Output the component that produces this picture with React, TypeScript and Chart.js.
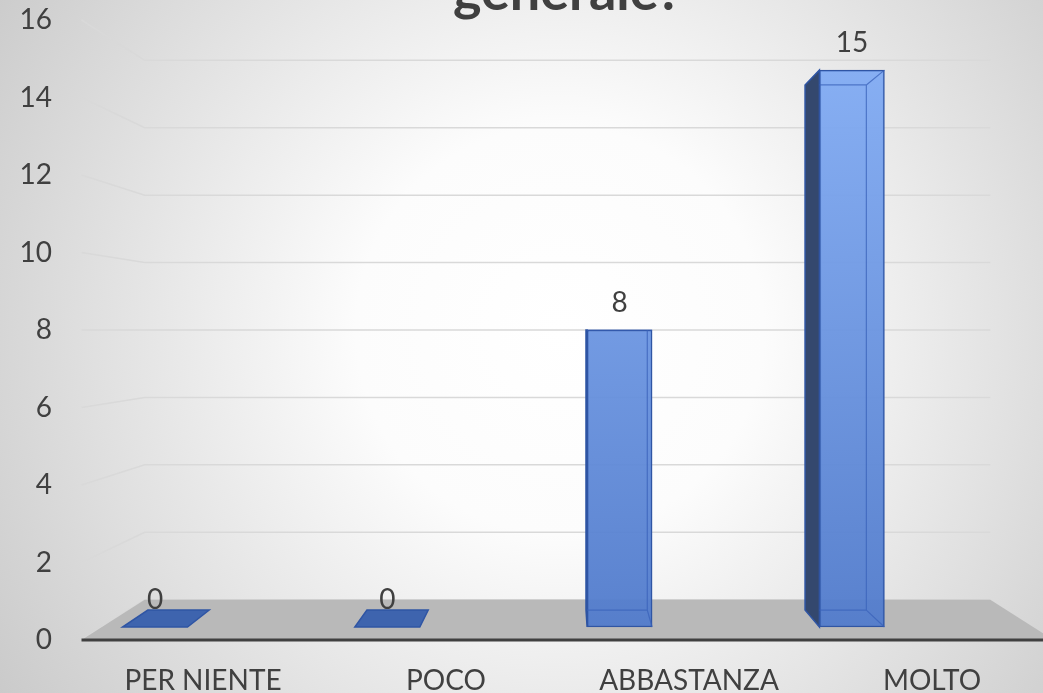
import React, { useEffect, useRef } from 'react';
import { Chart, registerables } from 'chart.js';

Chart.register(...registerables);

// ---- data ----
const CATEGORIES: string[] = ['PER NIENTE', 'POCO', 'ABBASTANZA', 'MOLTO'];
const VALUES: number[] = [0, 0, 8, 15];
const Y_MIN = 0;
const Y_MAX = 16;
const Y_STEP = 2;
const TITLE = 'generale?';

// ---- style / geometry ----
const FONT = 'Lato';
const TEXT_COLOR = '#404040';
const FLOOR_DEPTH = 0.13; // fraction toward vanishing point for the back wall
const BAR_BACK_RATIO = 0.943; // back face of bars relative to front face (toward vanishing point)
const GRID_COLOR = '#d9d9d9';
const FLOOR_COLOR = '#b9b9b9';
const AXIS_COLOR = '#404040';
const BAR_BORDER = '#2f55a4';
const BAR_SIDE = '#34486e';
const BAR_FLAT = '#3e64ae';
const BAR_INNER = 'rgba(58,98,186,0.75)';
const BAR_FILL_TOP = 'rgba(134,176,247,0.95)';
const BAR_FILL_BOTTOM = 'rgba(80,122,203,0.95)';

export default function App() {
  const ref = useRef<HTMLCanvasElement>(null);

  useEffect(() => {
    const canvas = ref.current;
    if (!canvas) return;

    const geom = (chart: any) => {
      const xLab = chart.scales.x;
      const yS = chart.scales.y;
      const vx = xLab.getPixelForValue((CATEGORIES.length - 1) / 2);
      const vy = yS.getPixelForValue((Y_MIN + Y_MAX) / 2);
      const proj = (x: number, y: number, d: number) => [x + d * (vx - x), y + d * (vy - y)];
      const back = (x: number, y: number) => [vx + (x - vx) * BAR_BACK_RATIO, vy + (y - vy) * BAR_BACK_RATIO];
      return { xLab, yS, vx, vy, proj, back };
    };

    const bars = (chart: any) => {
      const meta = chart.getDatasetMeta(0);
      return meta.data.map((el: any, i: number) => {
        const p = el.getProps(['x', 'y', 'base', 'width'], true);
        return { i, v: VALUES[i], x: p.x, top: p.y, bottom: p.base, w: p.width };
      });
    };

    const scene = {
      id: 'scene3d',
      beforeDraw(chart: any) {
        const { ctx, width, height } = chart;
        ctx.save();
        const g = ctx.createRadialGradient(560, 330, 0, 560, 330, 680);
        g.addColorStop(0, '#ffffff');
        g.addColorStop(0.3, '#fcfcfc');
        g.addColorStop(1, '#c9c9c9');
        ctx.fillStyle = g;
        ctx.fillRect(0, 0, width, height);
        ctx.restore();
      },
      beforeDatasetsDraw(chart: any) {
        const { ctx } = chart;
        const { xLab, yS, proj, back } = geom(chart);
        const xL = xLab.getPixelForValue(-0.5);
        const xR = xLab.getPixelForValue(CATEGORIES.length - 0.5);
        const y0 = yS.getPixelForValue(Y_MIN);
        ctx.save();
        // wall grid lines
        ctx.strokeStyle = GRID_COLOR;
        ctx.lineWidth = 1.5;
        for (let v = Y_MIN; v <= Y_MAX; v += Y_STEP) {
          const yf = yS.getPixelForValue(v);
          const b1 = proj(xL, yf, FLOOR_DEPTH);
          const b2 = proj(xR, yf, FLOOR_DEPTH);
          ctx.beginPath();
          ctx.moveTo(xL, yf);
          ctx.lineTo(b1[0], b1[1]);
          ctx.lineTo(b2[0], b2[1]);
          ctx.stroke();
        }
        // floor
        const f1 = proj(xL, y0, FLOOR_DEPTH);
        const f2 = proj(xR, y0, FLOOR_DEPTH);
        ctx.fillStyle = FLOOR_COLOR;
        ctx.beginPath();
        ctx.moveTo(xL, y0);
        ctx.lineTo(f1[0], f1[1]);
        ctx.lineTo(f2[0], f2[1]);
        ctx.lineTo(xR, y0);
        ctx.closePath();
        ctx.fill();
        // axis line
        ctx.strokeStyle = AXIS_COLOR;
        ctx.lineWidth = 3;
        ctx.beginPath();
        ctx.moveTo(xL, y0);
        ctx.lineTo(xR, y0);
        ctx.stroke();

        // bar sides / flat bars
        for (const b of bars(chart)) {
          const l = b.x - b.w / 2;
          const r = b.x + b.w / 2;
          const [bl, bt] = back(l, b.top);
          const [br, bb] = back(r, b.bottom);
          if (b.v === 0) {
            ctx.fillStyle = BAR_FLAT;
            ctx.strokeStyle = BAR_BORDER;
            ctx.lineWidth = 1.5;
            ctx.beginPath();
            ctx.moveTo(l, b.bottom);
            ctx.lineTo(r, b.bottom);
            ctx.lineTo(br, bb);
            ctx.lineTo(bl, bb);
            ctx.closePath();
            ctx.fill();
            ctx.stroke();
            continue;
          }
          ctx.fillStyle = BAR_SIDE;
          ctx.strokeStyle = BAR_BORDER;
          ctx.lineWidth = 1.5;
          if (bl < l) {
            ctx.beginPath();
            ctx.moveTo(l, b.top);
            ctx.lineTo(bl, bt);
            ctx.lineTo(bl, bb);
            ctx.lineTo(l, b.bottom);
            ctx.closePath();
            ctx.fill();
            ctx.stroke();
          }
          const [brt] = back(r, b.top);
          if (brt > r) {
            ctx.beginPath();
            ctx.moveTo(r, b.top);
            ctx.lineTo(brt, bt);
            ctx.lineTo(brt, bb);
            ctx.lineTo(r, b.bottom);
            ctx.closePath();
            ctx.fill();
            ctx.stroke();
          }
        }
        ctx.restore();
      },
      afterDatasetsDraw(chart: any) {
        const { ctx } = chart;
        const { back } = geom(chart);
        ctx.save();
        for (const b of bars(chart)) {
          const l = b.x - b.w / 2;
          const r = b.x + b.w / 2;
          if (b.v !== 0) {
            const [bl, bt] = back(l, b.top);
            const [br, bb] = back(r, b.bottom);
            const xl = Math.max(bl, l);
            ctx.strokeStyle = BAR_INNER;
            ctx.lineWidth = 1.2;
            ctx.beginPath();
            // back rectangle edges visible through the front face
            ctx.moveTo(xl, bt);
            ctx.lineTo(br, bt);
            ctx.lineTo(br, bb);
            ctx.lineTo(xl, bb);
            // connecting edges
            ctx.moveTo(br, bt);
            ctx.lineTo(r, b.top);
            ctx.moveTo(br, bb);
            ctx.lineTo(r, b.bottom);
            ctx.stroke();
          }
          // data label
          ctx.fillStyle = TEXT_COLOR;
          ctx.font = `28px ${FONT}`;
          ctx.textAlign = 'center';
          ctx.textBaseline = 'middle';
          ctx.fillText(String(b.v), b.x, b.top - 27);
        }
        ctx.restore();
      },
      afterDraw(chart: any) {
        const { ctx } = chart;
        const xLab = chart.scales.x;
        ctx.save();
        ctx.fillStyle = TEXT_COLOR;
        ctx.font = `bold 54px ${FONT}`;
        ctx.textAlign = 'center';
        ctx.textBaseline = 'alphabetic';
        ctx.fillText(TITLE, xLab.getPixelForValue((CATEGORIES.length - 1) / 2), 10);
        ctx.restore();
      },
    };

    const chart = new Chart(canvas, {
      type: 'bar',
      data: {
        datasets: [
          {
            data: VALUES.map((v, i) => ({ x: i, y: v })),
            xAxisID: 'xBar',
            yAxisID: 'yBar',
            barThickness: 65,
            borderColor: BAR_BORDER,
            borderWidth: 1.5,
            borderSkipped: false,
            backgroundColor: (c: any) => {
              const area = c.chart.chartArea;
              if (!area) return BAR_FILL_BOTTOM;
              const g = c.chart.ctx.createLinearGradient(0, area.top, 0, area.bottom);
              g.addColorStop(0, BAR_FILL_TOP);
              g.addColorStop(1, BAR_FILL_BOTTOM);
              return g;
            },
          },
        ],
      },
      options: {
        animation: false,
        responsive: true,
        maintainAspectRatio: false,
        layout: { padding: { top: 20, left: 0, right: 0, bottom: 0 } },
        plugins: {
          legend: { display: false },
          title: { display: false },
          tooltip: { enabled: false },
        },
        scales: {
          y: {
            type: 'linear',
            position: 'left',
            min: Y_MIN,
            max: Y_MAX,
            ticks: {
              stepSize: Y_STEP,
              color: TEXT_COLOR,
              font: { family: FONT, size: 28 },
              padding: 0,
            },
            grid: { display: false, drawTicks: false },
            border: { display: false },
            afterFit: (s: any) => {
              s.width = 52;
            },
          },
          yBar: {
            type: 'linear',
            display: false,
            min: -0.35,
            max: 16.35,
          },
          x: {
            type: 'linear',
            position: 'bottom',
            offset: false,
            min: -0.6214,
            max: 3.4568,
            afterBuildTicks: (s: any) => {
              s.ticks = CATEGORIES.map((_, i) => ({ value: i }));
            },
            ticks: {
              color: TEXT_COLOR,
              font: { family: FONT, size: 28 },
              padding: 16,
              autoSkip: false,
              maxRotation: 0,
              minRotation: 0,
              callback: (v: any) => CATEGORIES[v] ?? '',
            },
            grid: { display: false, offset: false },
            border: { display: false },
            afterFit: (s: any) => {
              s.height = 53;
            },
          },
          xBar: {
            type: 'linear',
            display: false,
            offset: false,
            grid: { offset: false },
            min: -0.4434,
            max: 3.8226,
          },
        },
      },
      plugins: [scene],
    });

    return () => chart.destroy();
  }, []);

  return (
    <div style={{ position: 'fixed', left: 0, top: 0, width: 1043, height: 693 }}>
      <canvas ref={ref} />
    </div>
  );
}
